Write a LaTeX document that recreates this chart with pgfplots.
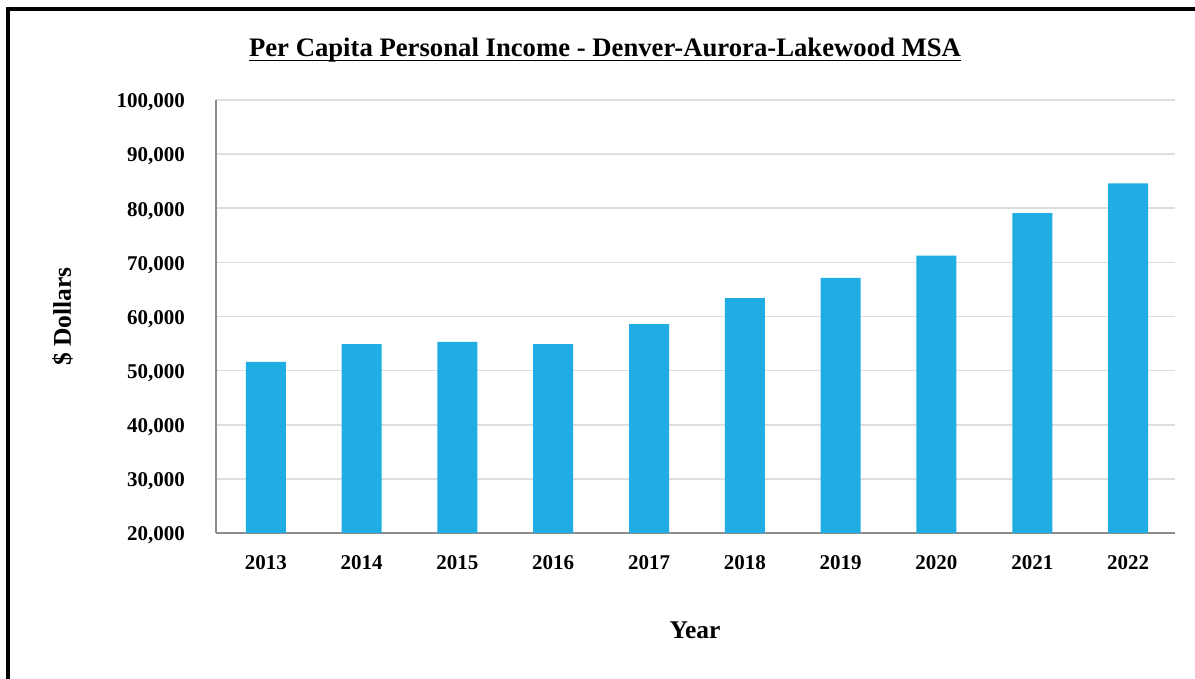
\documentclass[border=0pt]{standalone}
\usepackage{fontspec}
\setmainfont{Liberation Serif}
\usepackage{pgfplots}
\pgfplotsset{compat=1.18}
\definecolor{barblue}{RGB}{31,173,228}
\definecolor{gridgray}{RGB}{222,222,222}
\definecolor{axisgray}{RGB}{140,140,140}
\begin{document}
\begin{tikzpicture}[x=1pt,y=1pt]
\useasboundingbox (0pt,0pt) rectangle (1195pt,679pt);
\draw[line width=4pt] (8pt,0pt) -- (8pt,670pt) -- (1197pt,670pt);
\begin{axis}[
  at={(216pt,146pt)}, anchor=south west,
  scale only axis, width=959pt, height=433pt,
  xmin=-0.52, xmax=9.49, ymin=20000, ymax=100000,
  ytick={20000,30000,40000,50000,60000,70000,80000,90000,100000},
  xtick={0,1,2,3,4,5,6,7,8,9},
  xticklabels={2013,2014,2015,2016,2017,2018,2019,2020,2021,2022},
  scaled y ticks=false,
  yticklabel style={/pgf/number format/fixed,/pgf/number format/precision=0,/pgf/number format/1000 sep={,}},
  /pgf/number format/assume math mode=true,
  ticklabel style={font=\fontsize{21}{24}\selectfont\bfseries, inner sep=0pt},
  yticklabel style={xshift=-31pt, yshift=-2.5pt},
  xticklabel style={yshift=-22pt},
  major tick length=0pt,
  axis x line=bottom, axis y line=left,
  axis line style={draw=axisgray, line width=2pt, -},
  ymajorgrids, grid style={draw=gridgray, line width=1.6pt},
  ybar, bar width=40pt,
  clip=false,
]
\addplot[fill=barblue, draw=none] coordinates {
(0,51600) (1,54900) (2,55300) (3,54900) (4,58600) (5,63400) (6,67150) (7,71250) (8,79100) (9,84600)};
\end{axis}
\node[anchor=base, inner sep=0pt, font=\fontsize{26.7}{30}\selectfont\bfseries] (t) at (605pt,622pt) {Per Capita Personal Income - Denver-Aurora-Lakewood MSA};
\draw[line width=1.6pt] ([yshift=-3.5pt]t.base west) -- ([yshift=-3.5pt]t.base east);
\node[anchor=base, font=\fontsize{25.5}{30}\selectfont\bfseries] at (695pt,40pt) {Year};
\node[anchor=base, rotate=90, font=\fontsize{25.5}{30}\selectfont\bfseries] at (71pt,362.5pt) {\$ Dollars};
\end{tikzpicture}
\end{document}
